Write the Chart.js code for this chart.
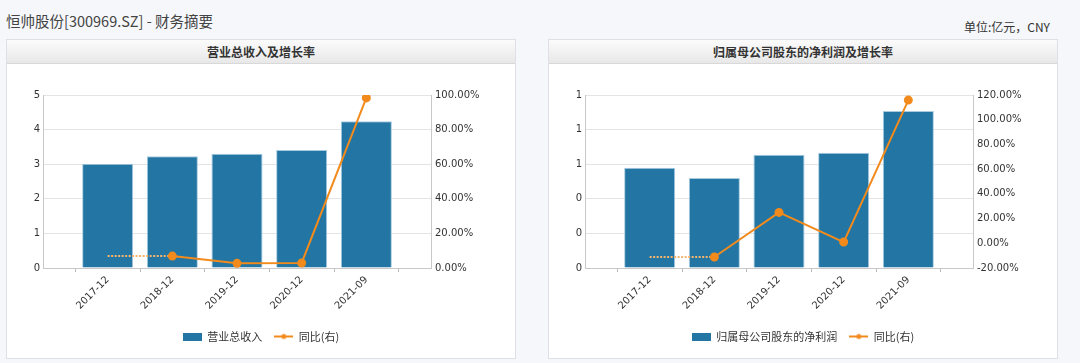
<!DOCTYPE html>
<html>
<head>
<meta charset="utf-8">
<script src="https://cdn.jsdelivr.net/npm/chart.js@4.4.1/dist/chart.umd.min.js"></script>
<style>
body { margin: 0; width: 1080px; height: 363px; overflow: hidden; position: relative; background: #f5f7fa; font-family: "Noto Sans CJK SC", sans-serif; }
.title { position: absolute; left: 6px; top: 10px; font-size: 14.5px; color: #444; }
.unit { position: absolute; right: 30px; top: 18px; font-size: 12px; color: #333; }
.panel { position: absolute; top: 39px; width: 508px; height: 318px; background: #fff; border: 1px solid #dde0e4; }
.panel .hd { height: 23px; line-height: 23px; text-align: center; font-size: 12px; font-weight: bold; color: #333; background: linear-gradient(#fbfbfb, #e8e8e8); border-bottom: 1px solid #d8d8d8; }
.panel canvas { display: block; }
</style>
</head>
<body>
<div class="title">恒帅股份[300969.SZ] - 财务摘要</div>
<div class="unit">单位:亿元，CNY</div>

<div class="panel" style="left:6px">
    <div class="hd">营业总收入及增长率</div>
    <canvas id="revenueChart" width="508" height="294"></canvas>
</div>
<div class="panel" style="left:548px">
    <div class="hd">归属母公司股东的净利润及增长率</div>
    <canvas id="profitChart" width="508" height="294"></canvas>
</div>

<script>
// 报告期
const periods = ['2017-12', '2018-12', '2019-12', '2020-12', '2021-09'];

// 营业总收入 (亿元) 及同比 (%)
const revenue = [3.01, 3.23, 3.30, 3.41, 4.24];
const revenueGrowth = [null, 6.9, 2.7, 2.9, 98.3];

// 归属母公司股东的净利润 (亿元) 及同比 (%)
const netProfit = [0.58, 0.52, 0.655, 0.666, 0.907];
const netProfitGrowth = [null, -11.1, 25.0, 1.0, 115.9];

// 坐标轴范围 [min, max, step]
const revenueAxis = [0, 5, 1];
const revenueGrowthAxis = [0, 100, 20];
const profitAxis = [0, 1, 0.2];
const profitGrowthAxis = [-20, 120, 20];

const barColor = '#2376a3';
const lineColor = '#f28a1c';
const numFont = { family: '"DejaVu Sans", sans-serif', size: 10 };

// 两端各留一个空位，使柱子居中分布
function pad(arr) {
    return [null, ...arr, null];
}

// 首期缺失的同比用虚线连到第一个有效值
function placeholder(growth) {
    const first = growth.findIndex(v => v !== null);
    return pad(growth.map((v, i) => i <= first ? growth[first] : null));
}

function barIcon() {
    const c = document.createElement('canvas');
    c.width = 19; c.height = 8;
    const g = c.getContext('2d');
    g.fillStyle = barColor;
    g.fillRect(0, 0, 19, 8);
    return c;
}

function lineIcon() {
    const c = document.createElement('canvas');
    c.width = 19; c.height = 8;
    const g = c.getContext('2d');
    g.strokeStyle = lineColor;
    g.lineWidth = 2;
    g.beginPath(); g.moveTo(0, 4); g.lineTo(19, 4); g.stroke();
    g.fillStyle = lineColor;
    g.beginPath(); g.arc(9.5, 4, 2.5, 0, Math.PI * 2); g.fill();
    return c;
}

function makeChart(id, barLabel, bars, growth, leftAxis, rightAxis, leftDigits) {
    const ctx = document.getElementById(id).getContext('2d');
    return new Chart(ctx, {
        type: 'bar',
        data: {
            labels: pad(periods).map(p => p === null ? '' : p),
            datasets: [
                {
                    type: 'line',
                    label: '同比(右)',
                    data: pad(growth),
                    yAxisID: 'y1',
                    borderColor: lineColor,
                    backgroundColor: lineColor,
                    borderWidth: 2,
                    pointRadius: 3.5,
                    pointHoverRadius: 3.5,
                    tension: 0,
                    order: 0
                },
                {
                    type: 'line',
                    label: 'placeholder',
                    data: placeholder(growth),
                    yAxisID: 'y1',
                    borderColor: '#f6b46c',
                    borderWidth: 2,
                    borderDash: [2, 1.5],
                    pointRadius: 0,
                    order: 1
                },
                {
                    label: barLabel,
                    data: pad(bars),
                    yAxisID: 'y',
                    backgroundColor: barColor,
                    borderColor: '#a9cbe0',
                    borderWidth: 1,
                    barPercentage: 1,
                    categoryPercentage: 0.79,
                    order: 2
                }
            ]
        },
        options: {
            responsive: false,
            animation: false,
            layout: { padding: { top: 31, bottom: 6, left: 0, right: 0 } },
            plugins: {
                tooltip: { enabled: false },
                legend: {
                    position: 'bottom',
                    labels: {
                        usePointStyle: true,
                        pointStyleWidth: 19,
                        boxHeight: 8,
                        padding: 12,
                        color: '#333',
                        font: { family: '"Noto Sans CJK SC", sans-serif', size: 11 },
                        generateLabels: function() {
                            return [
                                { text: barLabel, pointStyle: barIcon(), fillStyle: barColor, strokeStyle: barColor, lineWidth: 0, datasetIndex: 2, fontColor: '#333' },
                                { text: '同比(右)', pointStyle: lineIcon(), fillStyle: lineColor, strokeStyle: lineColor, lineWidth: 0, datasetIndex: 0, fontColor: '#333' }
                            ];
                        }
                    }
                }
            },
            scales: {
                x: {
                    offset: false,
                    grid: { display: true, drawOnChartArea: false, drawTicks: true, tickLength: 4, color: '#bbb' },
                    border: { display: true, color: '#c8c8c8' },
                    ticks: {
                        autoSkip: false,
                        maxRotation: 45,
                        minRotation: 45,
                        padding: 2,
                        color: '#333',
                        font: numFont
                    },
                    afterFit: function(scale) { scale.height = 51; }
                },
                y: {
                    position: 'left',
                    min: leftAxis[0],
                    max: leftAxis[1],
                    grid: { color: '#e4e4e4', drawTicks: false },
                    border: { display: true, color: '#c8c8c8' },
                    ticks: {
                        stepSize: leftAxis[2],
                        padding: 3,
                        color: '#333',
                        font: numFont,
                        callback: v => v.toFixed(leftDigits)
                    },
                    afterFit: function(scale) { scale.width = 36; }
                },
                y1: {
                    position: 'right',
                    min: rightAxis[0],
                    max: rightAxis[1],
                    grid: { display: false, drawTicks: false },
                    border: { display: true, color: '#c8c8c8' },
                    ticks: {
                        stepSize: rightAxis[2],
                        padding: 4,
                        color: '#333',
                        font: numFont,
                        callback: v => v.toFixed(2) + '%'
                    },
                    afterFit: function(scale) { scale.width = 84; }
                }
            }
        }
    });
}

makeChart('revenueChart', '营业总收入', revenue, revenueGrowth, revenueAxis, revenueGrowthAxis, 0);
makeChart('profitChart', '归属母公司股东的净利润', netProfit, netProfitGrowth, profitAxis, profitGrowthAxis, 0);
</script>
</body>
</html>
